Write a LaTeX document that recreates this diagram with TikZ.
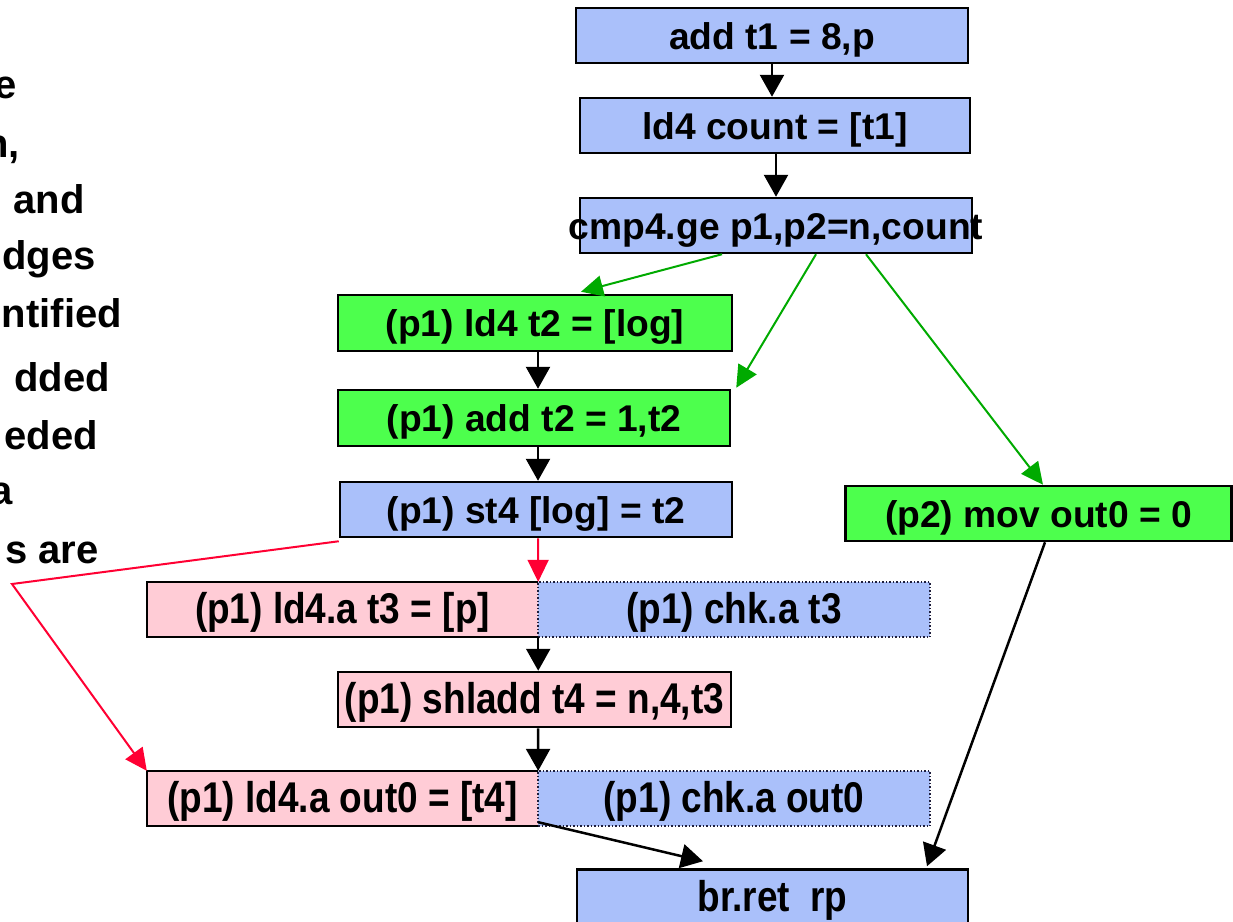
\documentclass[tikz,border=0pt]{standalone}
\usepackage{fontspec}
\usepackage{graphicx}
\setmainfont{Liberation Sans}
\usetikzlibrary{arrows.meta}
\definecolor{boxblue}{RGB}{170,192,250}
\definecolor{boxgreen}{RGB}{77,255,77}
\definecolor{boxpink}{RGB}{255,204,214}
\definecolor{arrgreen}{RGB}{0,170,0}
\definecolor{arrred}{RGB}{255,0,51}
\definecolor{dotline}{RGB}{30,30,60}
\newcommand{\uptxt}[1]{\raisebox{-13.5pt}[0pt][0pt]{\bfseries\fontsize{37.2}{41}\selectfont #1}}
\newcommand{\cndtxt}[1]{\raisebox{-14pt}[0pt][0pt]{\scalebox{0.86}[1]{\bfseries\fontsize{43}{48}\selectfont #1}}}
\begin{document}
\begin{tikzpicture}[x=1pt,y=-1pt,
  instr/.style={draw=black, line width=2.5pt, inner sep=0pt, minimum height=55pt, text=black},
  bluebox/.style={instr, fill=boxblue},
  greenbox/.style={instr, fill=boxgreen},
  pinkfill/.style={fill=boxpink, inner sep=0pt, minimum height=55pt, minimum width=391pt},
  chkbox/.style={fill=boxblue, draw=dotline, dotted, line width=1.5pt, inner sep=0pt, minimum height=55pt, minimum width=392pt},
  flow/.style={draw=black, line width=2.5pt, -{Triangle[length=22pt,width=24pt]}},
  gflow/.style={draw=arrgreen, line width=2pt, -{Triangle[length=22pt,width=21pt]}},
  rflow/.style={draw=arrred, line width=2pt, -{Triangle[length=22pt,width=21pt]}},
  side/.style={font=\bfseries\fontsize{40}{44}\selectfont, anchor=base east, inner sep=0pt}]
\clip (0,0) rectangle (1233,921);
\fill[white] (0,0) rectangle (1233,921);

% left text fragments (cut off at the left edge, as in the reference)
\node[side] (s1) at (17,98) {e};
\node[side] (s2) at (20,157) {n,};
\node[side] (s3) at (85,213) {and};
\node[side] (s4) at (96,269) {dges};
\node[side] (s5) at (122,327) {ntified};
\node[side] (s6) at (110,391) {dded};
\node[side] (s7) at (98,449) {eded};
\node[side] (s8) at (13,504) {a};
\node[side] (s9) at (99,563) {s are};

% boxes
\node[bluebox, minimum width=392pt] (add) at (772,35.5) {\uptxt{add t1 = 8,p}};
\node[bluebox, minimum width=390pt] (ld4c) at (775,125.5) {\uptxt{ld4 count = [t1]}};
\node[bluebox, minimum width=392pt] (cmp) at (776,225.5) {\makebox[392pt][c]{\uptxt{cmp4.ge p1,p2=n,count}}};
\node[greenbox, minimum width=394pt, minimum height=56pt] (ld4t2) at (535,323) {\uptxt{(p1) ld4 t2 = [log]}};
\node[greenbox, minimum width=392pt, minimum height=56pt] (addt2) at (534,418) {\uptxt{(p1) add t2 = 1,t2}};
\node[bluebox, minimum width=392pt] (st4) at (536,509.5) {\uptxt{(p1) st4 [log] = t2}};
\node[greenbox, minimum width=386pt] (mov) at (1038.5,513.5) {\uptxt{(p2) mov out0 = 0}};

\node[pinkfill] (pink1) at (342.5,609.5) {\cndtxt{(p1) ld4.a t3 = [p]}};
\node[chkbox] (chk1) at (734,609.5) {\cndtxt{(p1) chk.a t3}};
\draw[black, line width=2.5pt] (pink1.north east) -- (pink1.north west) -- (pink1.south west) -- (pink1.south east);

\node[instr, fill=boxpink, minimum width=393pt] (shl) at (534.5,699.5) {\cndtxt{(p1) shladd t4 = n,4,t3}};

\node[pinkfill] (pink2) at (342.5,798.5) {\cndtxt{(p1) ld4.a out0 = [t4]}};
\node[chkbox] (chk2) at (734,798.5) {\cndtxt{(p1) chk.a out0}};
\draw[black, line width=2.5pt] (pink2.north east) -- (pink2.north west) -- (pink2.south west) -- (pink2.south east);

\node[bluebox, minimum width=391pt] (br) at (772.5,897) {\cndtxt{br.ret~~rp}};

% connectors
\draw[flow] (add.south) -- (add.south |- ld4c.north);
\draw[flow] ([xshift=1pt]ld4c.south) -- ([xshift=1pt]ld4c.south |- cmp.north);
\draw[gflow] ([xshift=-54pt]cmp.south) -- ([xshift=46pt,yshift=2pt]ld4t2.north);
\draw[gflow] ([xshift=40pt]cmp.south) -- ([xshift=5pt,yshift=1pt]addt2.north east);
\draw[gflow] ([xshift=90pt]cmp.south) -- ([xshift=4.5pt]mov.north);
\draw[flow] ([xshift=3pt]ld4t2.south) -- ([xshift=3pt]ld4t2.south |- addt2.north);
\draw[flow] ([xshift=4pt]addt2.south) -- ([xshift=4pt]addt2.south |- st4.north);
\draw[rflow] ([xshift=2pt]st4.south) -- (pink1.north east);
\draw[flow] (pink1.south east) -- (pink1.south east |- shl.north);
\draw[flow] ([xshift=3.5pt]shl.south) -- (pink2.north east);
\draw[flow] ([yshift=4pt]pink2.south east) -- ([xshift=-69.5pt,yshift=7pt]br.north);
\draw[flow] ([xshift=6.5pt]mov.south) -- ([xshift=154.5pt,yshift=2pt]br.north);
\coordinate (rbend) at (12,584);
\draw[rflow] ([yshift=-3pt]st4.south west) -- (rbend) -- (pink2.north west);
\end{tikzpicture}
\end{document}
